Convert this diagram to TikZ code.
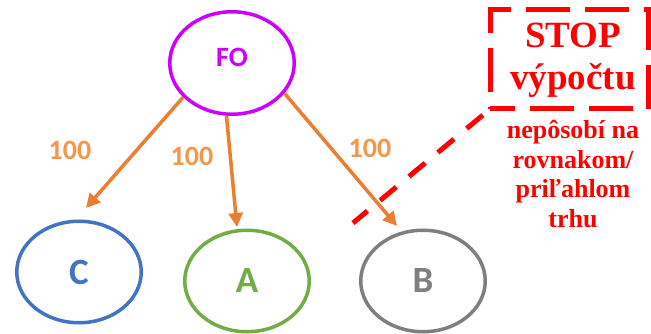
\documentclass[tikz,border=0pt]{standalone}
\usepackage{fontspec}
\setmainfont{Liberation Serif}
\newfontfamily\carl{Carlito}
\usetikzlibrary{arrows.meta,shapes.geometric}
\definecolor{fo}{HTML}{CC00FF}
\definecolor{cblue}{HTML}{4472C4}
\definecolor{agreen}{HTML}{70AD47}
\definecolor{bgrey}{HTML}{7F7F7F}
\definecolor{orng}{HTML}{ED7D31}
\definecolor{numc}{HTML}{F79646}
\definecolor{stopred}{HTML}{FF0000}
\begin{document}
\begin{tikzpicture}[x=1pt,y=-1pt,
  oval/.style={ellipse,draw,line width=3.5pt,minimum width=124.5pt,minimum height=101.5pt,inner sep=0pt},
  lbl/.style={font=\carl\bfseries\fontsize{37}{37}\selectfont},
  folbl/.style={text=fo,font=\carl\bfseries\fontsize{28}{28}\selectfont,inner sep=0pt},
  flow/.style={draw=orng,line width=3.5pt,-{Triangle[length=14pt,width=14pt]}},
  num/.style={text=numc,font=\carl\bfseries\fontsize{28}{28}\selectfont,inner sep=0pt},
  stopline/.style={draw=stopred,line width=5pt},
  stoptxt/.style={text=stopred,inner sep=0pt,align=center}
]
\useasboundingbox[fill=white] (0,0) rectangle (651,334);

% ovals
\node[oval,draw=fo,minimum height=102.5pt] (FO) at (232,63) {};
\node[folbl] (folabel) at (232,57) {FO};
\node[oval,draw=cblue,text=cblue,lbl] (C) at (79,272) {C};
\node[oval,draw=agreen,text=agreen,lbl] (A) at (247,281) {A};
\node[oval,draw=bgrey,text=bgrey,lbl] (B) at (423,281) {B};

% arrow ends
\coordinate (cend) at (86,208);
\coordinate (aend) at (237,227);
\coordinate (bend) at (397,226);

\draw[flow] (FO.215) -- (cend);
\draw[flow] (FO.264) -- (aend);
\draw[flow] (FO.330) -- (bend);

% numbers
\node[num] (n1) at (70,150) {100};
\node[num] (n2) at (192,156) {100};
\node[num] (n3) at (370,148) {100};

% stop box
\coordinate (boxsw) at (490,109);
\coordinate (boxnw) at (490,10);
\coordinate (boxne) at (648,10);
\coordinate (boxse) at (648,109);
\draw[stopline,dash pattern=on 44pt off 15pt,dash phase=42pt]
  (boxsw) -- (boxnw) -- (boxne) -- (boxse) -- cycle;
\node[stoptxt,anchor=north,font=\bfseries\fontsize{37}{42}\selectfont] (stop) at (573,23) {STOP\\výpočtu};
\node[stoptxt,anchor=north,font=\bfseries\fontsize{26}{29.5}\selectfont] (note) at (573,120) {nepôsobí na\\rovnakom/\\priľahlom\\trhu};

% dashed diagonal
\coordinate (dstart) at (489,110);
\coordinate (dend) at (353,223);
\draw[stopline,dash pattern=on 21pt off 16.5pt,dash phase=29.5pt] (dstart) -- (dend);
\end{tikzpicture}
\end{document}
